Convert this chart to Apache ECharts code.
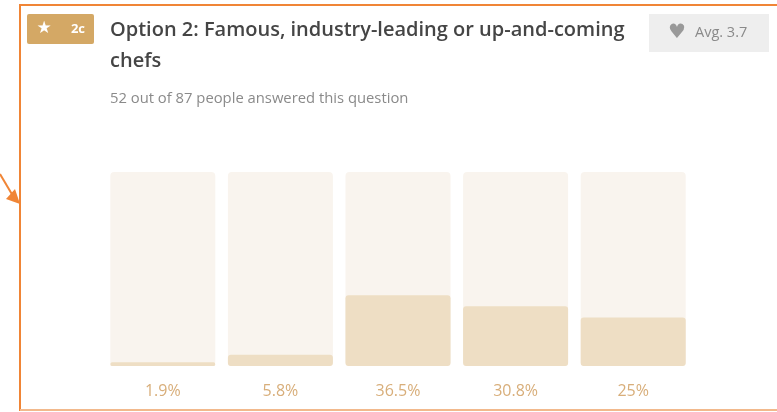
<!DOCTYPE html>
<html>
<head>
<meta charset="utf-8">
<script src="https://cdn.jsdelivr.net/npm/echarts@6/dist/echarts.min.js"></script>
<style>
  html, body { margin: 0; padding: 0; background: #fff; }
  #main { width: 777px; height: 412px; }
</style>
</head>
<body>
<div id="main"></div>
<script>
// 数据
var ratings = ['1', '2', '3', '4', '5'];
var shares = [1.9, 5.8, 36.5, 30.8, 25];
var answered = 52, asked = 87, average = 3.7;

var chart = echarts.init(document.getElementById('main'));
var font = '"Open Sans", "Liberation Sans", sans-serif';

var option = {
  animation: false,
  title: [{
    text: 'Option 2: Famous, industry-leading or up-and-coming\nchefs',
    left: 110, top: 15, padding: 0,
    textStyle: { color: '#454545', fontSize: 20, fontWeight: 600, fontFamily: font, lineHeight: 31 }
  }, {
    text: answered + ' out of ' + asked + ' people answered this question',
    left: 110, top: 91, padding: 0,
    textStyle: { color: '#8a8a8a', fontSize: 14.8, fontWeight: 'normal', fontFamily: font }
  }],
  grid: { left: 104, right: 85, top: 172, bottom: 46 },
  xAxis: {
    type: 'category',
    position: 'top',
    data: ratings,
    axisLine: { show: false },
    axisTick: { show: false },
    axisLabel: { inside: true, margin: 17, color: '#7a5e3e', fontSize: 14, fontWeight: 'bold', fontFamily: font }
  },
  yAxis: { type: 'value', min: 0, max: 100, show: false },
  series: [{
    type: 'bar',
    data: shares,
    barWidth: 105,
    showBackground: true,
    backgroundStyle: { color: '#f9f4ee', borderRadius: 4 },
    itemStyle: { color: '#eedec4', borderRadius: 3 },
    label: {
      show: true, position: 'bottom', distance: 17,
      formatter: '{c}%',
      color: '#d8ae7a', fontSize: 16, fontFamily: font
    }
  }],
  graphic: [
    // 外框
    { type: 'rect', shape: { x: 20, y: 5, width: 800, height: 405 }, style: { fill: 'none', stroke: '#f08536', lineWidth: 2 } },
    { type: 'line', shape: { x1: 20, y1: 410, x2: 777, y2: 410 }, style: { stroke: '#f2b98c', lineWidth: 2 } },
    // 箭头
    { type: 'line', shape: { x1: 0, y1: 174, x2: 13, y2: 196 }, style: { stroke: '#f08536', lineWidth: 2 } },
    { type: 'polygon', shape: { points: [[20, 204], [6, 199], [15, 189]] }, style: { fill: '#f08536' } },
    // 徽章
    { type: 'rect', shape: { x: 27, y: 14, width: 67, height: 30, r: 2 }, style: { fill: '#d4a865' } },
    { type: 'text', x: 44, y: 29, style: { text: '★', fill: '#fff', font: '17px "DejaVu Sans"', align: 'center', verticalAlign: 'middle' } },
    { type: 'text', x: 78, y: 29, style: { text: '2c', fill: '#fff', font: 'bold 13px ' + font, align: 'center', verticalAlign: 'middle' } },
    // 平均分
    { type: 'rect', shape: { x: 649, y: 14, width: 120, height: 38 }, style: { fill: '#eeeeee' } },
    { type: 'text', x: 677, y: 33, style: { text: '♥', fill: '#999999', font: '20px "DejaVu Sans"', align: 'center', verticalAlign: 'middle' } },
    { type: 'text', x: 695, y: 33, style: { text: 'Avg. ' + average, fill: '#8a8a8a', font: '14.5px ' + font, verticalAlign: 'middle' } }
  ]
};

chart.setOption(option);
</script>
</body>
</html>
